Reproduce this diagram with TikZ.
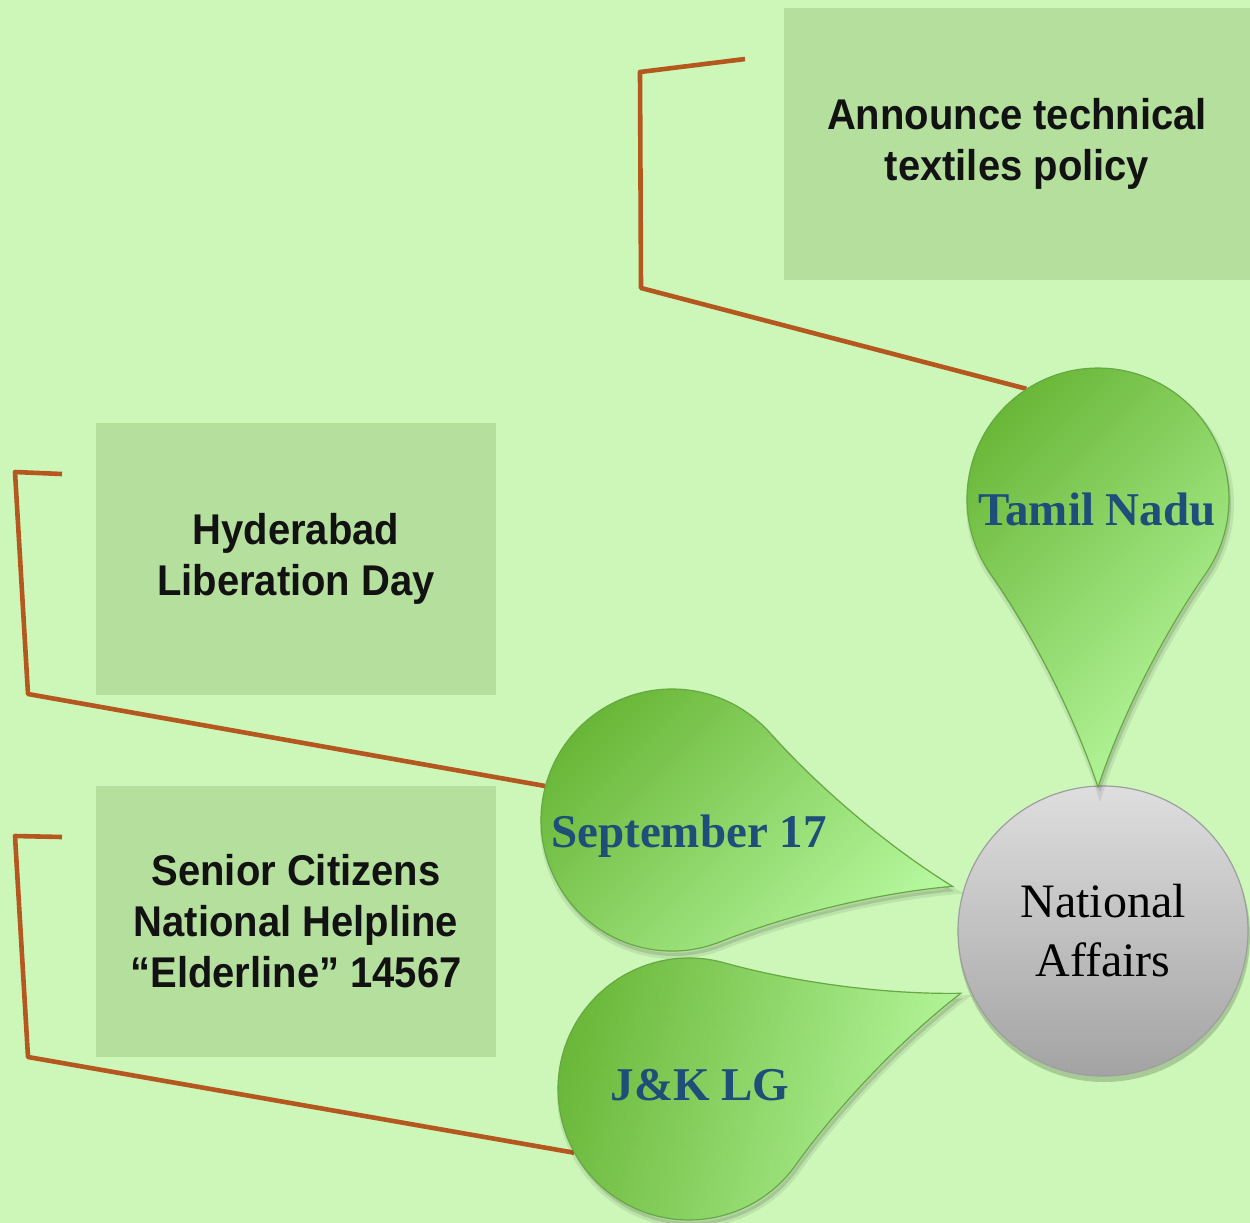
\documentclass[tikz,border=0pt]{standalone}
\usepackage{fontspec}
\setmainfont{Liberation Serif}
\newfontfamily\boxfont[FakeStretch=0.93]{Liberation Sans}
\definecolor{bg}{HTML}{CCF7B8}
\definecolor{boxfill}{HTML}{B5DF9D}
\definecolor{conn}{HTML}{B5581F}
\definecolor{tddark}{HTML}{69B637}
\definecolor{tdlight}{HTML}{B5F79D}
\definecolor{tdline}{HTML}{66A843}
\definecolor{lbl}{HTML}{1F4E79}
\definecolor{grtop}{HTML}{DEDEDE}
\definecolor{grbot}{HTML}{A3A3A3}
\tikzset{
  infobox/.style={rectangle, fill=boxfill, inner sep=0pt, align=center,
    font=\boxfont\bfseries\fontsize{21.5}{25.5}\selectfont, text=black!93},
  connector/.style={draw=conn, line width=2.3pt, line join=round},
  pinlabel/.style={anchor=base, text=lbl, inner sep=0pt,
    font=\bfseries\fontsize{23.5}{28}\selectfont},
  pinanchor/.style={circle, minimum size=131pt, inner sep=0pt},
  hub/.style={circle, minimum size=145pt, inner sep=0pt, top color=grtop,
    bottom color=grbot, draw=black!38, line width=0.6pt, align=center,
    font=\fontsize{24}{29.5}\selectfont},
}
\newcommand{\tdpath}[1]{\path[#1] (2.2,0) .. controls (1.6,0.2) and (0.984,0.532) .. (0.574,0.819)
  arc[start angle=55, end angle=305, radius=1]
  .. controls (0.984,-0.532) and (1.6,-0.2) .. (2.2,0) -- cycle;}
\newcommand{\teardrop}[4]{%
  \begin{scope}[shift={(#1+2,#2+5)}, rotate=#3, scale=131]
    \tdpath{fill=black, opacity=0.12, draw=black, draw opacity=0.08, line width=3pt}
  \end{scope}
  \begin{scope}[shift={(#1,#2)}, rotate=#3, scale=131]
    \tdpath{top color=tddark, bottom color=tdlight, shading angle=#4, draw=tdline, line width=0.6pt}
  \end{scope}}
\begin{document}
\begin{tikzpicture}[x=0.5pt, y=-0.5pt]
\useasboundingbox (0,0) rectangle (1250,1223);
\fill[bg] (0,0) rectangle (1250,1223);

% boxes
\node[infobox, minimum width=233pt, minimum height=136pt] (b1) at (1017,144) {Announce technical\\textiles policy};
\node[infobox, minimum width=200pt, minimum height=136pt] (b2) at (296,559) {Hyderabad\\Liberation Day};
\node[infobox, minimum width=200pt, minimum height=135.5pt] (b3) at (296,921.5) {Senior Citizens\\National Helpline\\“Elderline” 14567};

% anchors for teardrops
\node[pinanchor] (tn) at (1098,499) {};
\node[pinanchor] (sep) at (672,820) {};
\node[pinanchor] (jk) at (689,1089) {};

% free ends of connectors
\coordinate (e1) at (745,59);
\coordinate (e2) at (62,474);
\coordinate (e3) at (62,837);

% connectors
\draw[connector] (e1) -- (640,72) -- (641,288) -- (tn.123);
\draw[connector] (e2) -- (15,472) -- (28,694) -- (sep.165);
\draw[connector] (e3) -- (15,836) -- (28,1057) -- (jk.209);

% hub
\fill[black, opacity=0.18] (1104,936) circle[radius=146];
\node[hub] (na) at (1103,931) {National\\Affairs};

% teardrops
\teardrop{1098}{499}{-90}{45}
\teardrop{672}{820}{-13.3}{45}
\teardrop{689}{1089}{19.4}{75}

% labels
\node[pinlabel] (tnl) at (1097,525) {Tamil Nadu};
\node[pinlabel] (sepl) at (689,847) {September 17};
\node[pinlabel] (jkl) at (700,1100) {J\&K LG};
\end{tikzpicture}
\end{document}
